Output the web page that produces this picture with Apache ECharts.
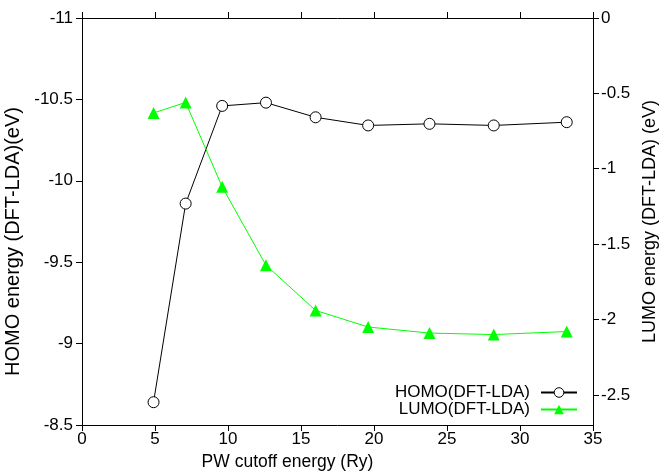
<!DOCTYPE html>
<html>
<head>
<meta charset="utf-8">
<script src="https://cdn.jsdelivr.net/npm/echarts@6/dist/echarts.min.js"></script>
<style>
  html, body { margin: 0; padding: 0; background: #fff; }
  #chart { width: 664px; height: 474px; }
</style>
</head>
<body>
<div id="chart"></div>
<script>
// PW cutoff energy (Ry)
const cutoff = [4.9, 7.1, 9.6, 12.6, 16.0, 19.6, 23.8, 28.2, 33.2];
// HOMO energy (eV), left axis
const homo = [-8.64, -9.86, -10.46, -10.48, -10.39, -10.34, -10.35, -10.34, -10.36];
// LUMO energy (eV), right axis
const lumo = [-0.63, -0.56, -1.12, -1.64, -1.94, -2.05, -2.09, -2.10, -2.08];
const lumoTicks = [0, -0.5, -1, -1.5, -2, -2.5];

const font = "'Liberation Sans', Arial, Helvetica, sans-serif";
const chart = echarts.init(document.getElementById('chart'));

// with onZero off the ticks come out pointing into the plot when inside is false
function tick(extra) {
  return Object.assign({ show: true, inside: false, length: 6, lineStyle: { color: '#000', width: 1 } }, extra || {});
}
function line() {
  return { show: true, onZero: false, lineStyle: { color: '#000', width: 1 } };
}

chart.setOption({
  animation: false,
  textStyle: { fontFamily: font },
  grid: { left: 82, right: 71, top: 18, bottom: 49, containLabel: false, outerBoundsMode: 'none' },
  legend: {
    orient: 'vertical',
    align: 'right',
    right: 81,
    top: 379,
    itemWidth: 36,
    itemHeight: 12,
    itemGap: 0,
    itemStyle: { borderWidth: 1 },
    textStyle: { fontSize: 17, lineHeight: 16, color: '#000', fontFamily: font, padding: [0, 6, 0, 0] },
    data: ['HOMO(DFT-LDA)', 'LUMO(DFT-LDA)']
  },
  xAxis: [
    {
      type: 'value',
      min: 0,
      max: 35,
      interval: 5,
      position: 'bottom',
      name: 'PW cutoff energy (Ry)',
      nameLocation: 'middle',
      nameGap: 28,
      nameTextStyle: { fontSize: 17.5, color: '#000', padding: [0, 100, 0, 0] },
      splitLine: { show: false },
      axisLine: line(),
      axisTick: tick(),
      axisLabel: { fontSize: 17, color: '#000', margin: 6 }
    },
    {
      type: 'value',
      min: 0,
      max: 35,
      interval: 5,
      position: 'top',
      splitLine: { show: false },
      axisLine: line(),
      axisTick: tick(),
      axisLabel: { show: false }
    }
  ],
  yAxis: [
    {
      type: 'value',
      position: 'left',
      min: -11,
      max: -8.5,
      interval: 0.5,
      inverse: true,
      name: 'HOMO energy (DFT-LDA)(eV)',
      nameLocation: 'middle',
      nameRotate: 90,
      nameGap: 40,
      nameTextStyle: { fontSize: 20, color: '#000', padding: [0, 40, 0, 0] },
      splitLine: { show: false },
      axisLine: line(),
      axisTick: tick(),
      axisLabel: { fontSize: 17, color: '#000', margin: 9 }
    },
    {
      type: 'value',
      position: 'right',
      min: -2.7,
      max: 0,
      name: 'LUMO energy (DFT-LDA) (eV)',
      nameLocation: 'middle',
      nameRotate: 90,
      nameGap: 48,
      nameTextStyle: { fontSize: 18, color: '#000' },
      splitLine: { show: false },
      axisLine: line(),
      axisTick: tick({ customValues: lumoTicks }),
      axisLabel: { fontSize: 17, color: '#000', margin: 8, customValues: lumoTicks }
    }
  ],
  series: [
    {
      name: 'HOMO(DFT-LDA)',
      type: 'line',
      yAxisIndex: 0,
      data: cutoff.map((x, i) => [x, homo[i]]),
      symbol: 'circle',
      symbolSize: 11,
      lineStyle: { color: '#000', width: 1 },
      itemStyle: { color: '#fff', borderColor: '#000', borderWidth: 1 }
    },
    {
      name: 'LUMO(DFT-LDA)',
      type: 'line',
      yAxisIndex: 1,
      data: cutoff.map((x, i) => [x, lumo[i]]),
      symbol: 'triangle',
      symbolSize: 12,
      lineStyle: { color: '#00ff00', width: 1 },
      itemStyle: { color: '#00ff00' }
    }
  ]
});
</script>
</body>
</html>
